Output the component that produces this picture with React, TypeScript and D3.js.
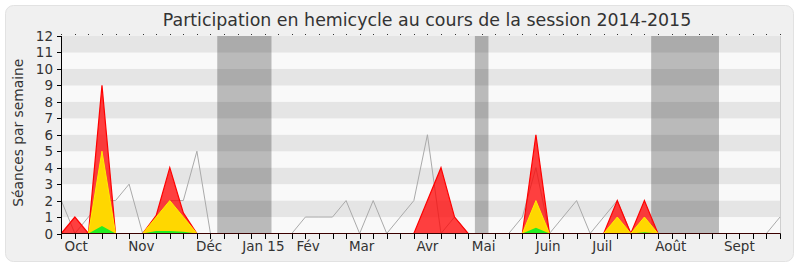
import React from "react";
import * as d3 from "d3";

// Weekly values over the 2014-2015 session (54 weeks)
const presences = [0, 1, 0, 9, 0, 0, 0, 1.1, 4, 1.25, 0, 0, 0, 0, 0, 0, 0, 0, 0, 0, 0, 0, 0, 0, 0, 0, 0, 2, 4, 1, 0, 0, 0, 0, 0, 6, 0, 0, 0, 0, 0, 2, 0, 2, 0, 0, 0, 0, 0, 0, 0, 0, 0, 0];
const interventions = [0, 0, 0, 5, 0, 0, 0, 1, 2, 1, 0, 0, 0, 0, 0, 0, 0, 0, 0, 0, 0, 0, 0, 0, 0, 0, 0, 0, 0, 0, 0, 0, 0, 0, 0, 2, 0, 0, 0, 0, 0, 1, 0, 1, 0, 0, 0, 0, 0, 0, 0, 0, 0, 0];
const questions = [0, 0, 0, 0.45, 0, 0, 0, 0.15, 0.15, 0.1, 0, 0, 0, 0, 0, 0, 0, 0, 0, 0, 0, 0, 0, 0, 0, 0, 0, 0, 0, 0, 0, 0, 0, 0, 0, 0.35, 0, 0, 0, 0, 0, 0.02, 0, 0.08, 0, 0, 0, 0, 0, 0, 0, 0, 0, 0];
const mediane = [2, 0, 1, 2, 2, 3, 0, 1, 2, 2, 5, 0, 0, 0, 0, 0, 0, 0, 1, 1, 1, 2, 0, 2, 0, 1, 2, 6, 0, 1, 0, 0, 0, 0, 1, 4, 0, 1, 2, 0, 1, 2, 0, 0, 0, 0, 0, 0, 0, 0, 0, 0, 0, 1];

// Parliamentary recesses, in weeks
const vacances: [number, number][] = [[11.5, 15.5], [30.5, 31.5], [43.5, 48.5]];

// Month labels and their position in weeks
const moisLabels = ["Oct", "Nov", "Déc", "Jan 15", "Fév", "Mar", "Avr", "Mai", "Juin", "Juil", "Août", "Sept"];
const moisPos = [1.1, 5.9, 10.9, 14.9, 18.2, 22.15, 27, 31.15, 35.9, 39.9, 44.95, 50];

const yTicks = [0, 1, 2, 3, 4, 5, 6, 7, 8, 9, 10, 11, 12];

const FONT = "DejaVu Sans";

export default function App() {
  const W = 800, H = 267;
  const nWeeks = presences.length;
  const x = d3.scaleLinear().domain([0, nWeeks - 1]).range([61.3, 780]);
  const y = d3.scaleLinear().domain([0, 12]).range([233.5, 36]);

  const area = d3.area<number>()
    .x((_, i) => x(i))
    .y0(y(0))
    .y1((d) => y(d));
  const line = d3.line<number>()
    .x((_, i) => x(i))
    .y((d) => y(d));

  const weeks = d3.range(nWeeks);
  const bands = d3.range(12);
  const x0 = 61.5;

  return (
    <svg width={W} height={H} style={{ position: "absolute", left: 0, top: 0 }} fontFamily={FONT}>
      <rect x={5.5} y={5.5} width={788} height={256} rx={8} fill="#f0f0f0" stroke="#e2e2e2" />
      <text x={427} y={26} textAnchor="middle" fontSize={17.4} fill="#333">
        Participation en hemicycle au cours de la session 2014-2015
      </text>

      {/* horizontal bands */}
      {bands.map((k) => (
        <rect key={k} x={x0} width={x(nWeeks - 1) - x0} y={y(k + 1)} height={y(k) - y(k + 1)}
          fill={k % 2 === 1 ? "#e5e5e5" : "#f9f9f9"} />
      ))}

      {/* recess shading */}
      {vacances.map(([a, b], i) => (
        <rect key={i} x={x(a)} width={x(b) - x(a)} y={y(12)} height={y(0) - y(12)} fill="rgba(0,0,0,0.25)" />
      ))}

      <line x1={780.5} x2={780.5} y1={y(12)} y2={y(0)} stroke="#cfcfcf" />

      {/* median line, under the areas */}
      <path d={line(mediane) ?? ""} fill="none" stroke="#aaaaaa" strokeWidth={1} />

      <path d={area(presences) ?? ""} fill="rgba(255,0,0,0.75)" />
      <path d={line(presences) ?? ""} fill="none" stroke="#ff0000" strokeWidth={1.2} />
      <path d={area(interventions) ?? ""} fill="#ffd700" />
      <path d={line(interventions) ?? ""} fill="none" stroke="#ffee00" strokeWidth={1} />
      <path d={area(questions) ?? ""} fill="#22ee22" />

      {/* axes */}
      <line x1={x0} x2={x0} y1={y(12)} y2={y(0)} stroke="#000" />
      <line x1={x0} x2={780.5} y1={y(0)} y2={y(0)} stroke="#3a0000" />
      {weeks.map((i) => (
        <g key={i}>
          <line x1={Math.round(x(i)) + 0.5} x2={Math.round(x(i)) + 0.5} y1={y(0)} y2={y(0) + 5.5} stroke="#000" />
          <line x1={Math.round(x(i)) + 0.5} x2={Math.round(x(i)) + 0.5} y1={y(12) - 2} y2={y(12) - 1} stroke="#333" />
        </g>
      ))}
      {yTicks.map((t) => (
        <g key={t}>
          <line x1={x0 - 4.5} x2={x0} y1={Math.round(y(t)) + 0.5} y2={Math.round(y(t)) + 0.5} stroke="#000" />
          <text x={53} y={y(t) + 5} textAnchor="end" fontSize={13.5} fill="#333">{t}</text>
        </g>
      ))}
      {moisLabels.map((m, i) => (
        <text key={m} x={x(moisPos[i])} y={250.5} textAnchor="middle" fontSize={13.5} fill="#333">{m}</text>
      ))}
      <text transform={`translate(23,${132.8}) rotate(-90)`} textAnchor="middle" fontSize={13.8} fill="#333">
        Séances par semaine
      </text>
    </svg>
  );
}
